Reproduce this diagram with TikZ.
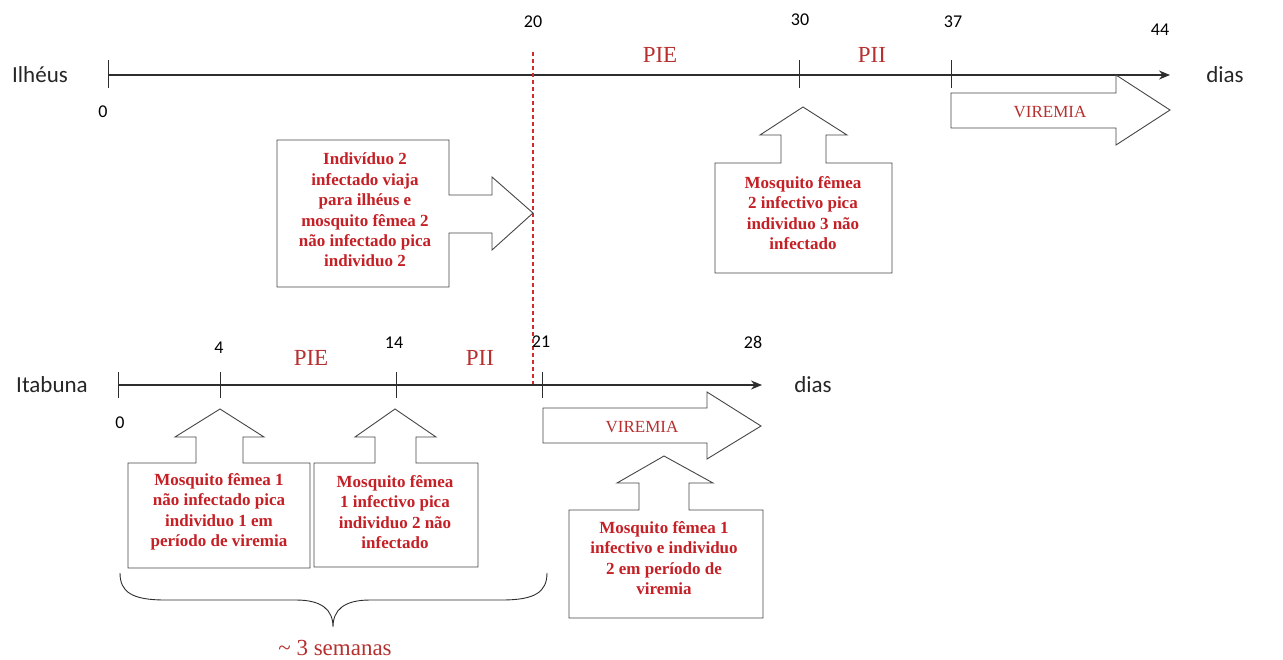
\documentclass[tikz,border=0pt]{standalone}
\usepackage{fontspec}
\setmainfont{Liberation Serif}
\newfontfamily\calib{Carlito}
\usetikzlibrary{arrows.meta}
\definecolor{boxred}{RGB}{196,32,38}
\definecolor{softred}{RGB}{182,48,48}
\definecolor{dashcol}{RGB}{205,45,45}
\definecolor{axisgray}{RGB}{45,45,45}
\definecolor{shapegray}{RGB}{70,70,70}
\tikzset{
  axis/.style={draw=axisgray, line width=1.1pt},
  tickmark/.style={draw=axisgray, line width=1pt},
  numlbl/.style={font=\calib\fontsize{18}{20}\selectfont, text=black},
  placelbl/.style={font=\calib\fontsize{23}{26}\selectfont, text=black!85},
  phase/.style={font=\fontsize{23}{26}\selectfont, text=softred},
  outline/.style={draw=shapegray, line width=0.9pt, fill=white},
  boxtext/.style={font=\bfseries\fontsize{17}{20.4}\selectfont, text=boxred, align=center},
  viretext/.style={font=\fontsize{17}{20}\selectfont, text=softred},
  dashred/.style={draw=dashcol, line width=1.2pt, dash pattern=on 4pt off 3pt}
}
\begin{document}
\begin{tikzpicture}[x=1pt,y=-1pt]
\useasboundingbox (0,0) rectangle (1283,659);

% ---------- Ilheus timeline ----------
\coordinate (t0) at (108,75);
\coordinate (tend) at (1170,75);
\draw[axis,-{Stealth[length=11pt,width=9pt]}] (t0) -- (tend);
\coordinate (tk0a) at (108,60);  \coordinate (tk0b) at (108,88);
\coordinate (tk30a) at (799,60); \coordinate (tk30b) at (799,88);
\coordinate (tk37a) at (951,60); \coordinate (tk37b) at (951,88);
\draw[tickmark] (tk0a) -- (tk0b);
\draw[tickmark] (tk30a) -- (tk30b);
\draw[tickmark] (tk37a) -- (tk37b);

\node[placelbl] (ilheus) at (40,75) {Ilhéus};
\node[placelbl] (dias1) at (1225,75) {dias};
\node[numlbl] (n0a) at (103,112) {0};
\node[numlbl] (n20) at (533,22) {20};
\node[numlbl] (n30) at (800,20) {30};
\node[numlbl] (n37) at (953,22) {37};
\node[numlbl] (n44) at (1160,30) {44};
\node[phase] (pie1) at (660,55) {PIE};
\node[phase] (pii1) at (872,55) {PII};

% dashed red line at day 20
\coordinate (d20a) at (533,52);
\coordinate (d20b) at (533,386);
\draw[dashred] (d20a) -- (d20b);

% VIREMIA arrow (top)
\draw[outline] (951,93) -- (1116,93) -- (1116,75) -- (1170,110) -- (1116,145) -- (1116,128) -- (951,128) -- cycle;
\node[viretext] (vir1) at (1050,112) {VIREMIA};

% callout: Individuo 2 viaja
\draw[outline] (277,140) -- (449,140) -- (449,195) -- (492,195) -- (492,177) -- (533,213) -- (492,250) -- (492,233) -- (449,233) -- (449,287) -- (277,287) -- cycle;
\node[boxtext] (c1) at (365,210) {Indivíduo 2\\infectado viaja\\para ilhéus e\\mosquito fêmea 2\\não infectado pica\\individuo 2};

% callout: Mosquito femea 2 infectivo
\draw[outline] (715,163) -- (781,163) -- (781,135) -- (760,135) -- (803,107) -- (847,135) -- (826,135) -- (826,163) -- (892,163) -- (892,273) -- (715,273) -- cycle;
\node[boxtext] (c2) at (803,213) {Mosquito fêmea\\2 infectivo pica\\individuo 3 não\\infectado};

% ---------- Itabuna timeline ----------
\coordinate (b0) at (118,385);
\coordinate (bend) at (762,385);
\draw[axis,-{Stealth[length=11pt,width=9pt]}] (b0) -- (bend);
\coordinate (bk0a) at (118,372);  \coordinate (bk0b) at (118,398);
\coordinate (bk4a) at (220,372);  \coordinate (bk4b) at (220,398);
\coordinate (bk14a) at (396,372); \coordinate (bk14b) at (396,398);
\coordinate (bk21a) at (542,372); \coordinate (bk21b) at (542,398);
\draw[tickmark] (bk0a) -- (bk0b);
\draw[tickmark] (bk4a) -- (bk4b);
\draw[tickmark] (bk14a) -- (bk14b);
\draw[tickmark] (bk21a) -- (bk21b);

\node[placelbl] (itabuna) at (52,385) {Itabuna};
\node[placelbl] (dias2) at (813,385) {dias};
\node[numlbl] (n0b) at (120,423) {0};
\node[numlbl] (n4) at (219,348) {4};
\node[numlbl] (n14) at (394,343) {14};
\node[numlbl] (n21) at (541,342) {21};
\node[numlbl] (n28) at (753,342) {28};
\node[phase] (pie2) at (311,358) {PIE};
\node[phase] (pii2) at (480,358) {PII};

% VIREMIA arrow (bottom)
\draw[outline] (543,408) -- (707,408) -- (707,392) -- (761,426) -- (707,459) -- (707,443) -- (543,443) -- cycle;
\node[viretext] (vir2) at (642,427) {VIREMIA};

% callout: Mosquito femea 1 nao infectado
\draw[outline] (128,463) -- (196,463) -- (196,437) -- (175,437) -- (220,409) -- (264,437) -- (243,437) -- (243,463) -- (310,463) -- (310,568) -- (128,568) -- cycle;
\node[boxtext] (c3) at (219,512) {Mosquito fêmea 1\\não infectado pica\\individuo 1 em\\período de viremia};

% callout: Mosquito femea 1 infectivo pica
\draw[outline] (314,463) -- (375,463) -- (375,437) -- (355,437) -- (395,409) -- (436,437) -- (416,437) -- (416,463) -- (478,463) -- (478,567) -- (314,567) -- cycle;
\node[boxtext] (c4) at (395,512) {Mosquito fêmea\\1 infectivo pica\\individuo 2 não\\infectado};

% callout: Mosquito femea 1 infectivo e individuo 2
\draw[outline] (569,510) -- (639,510) -- (639,483) -- (617,483) -- (664,456) -- (713,483) -- (689,483) -- (689,510) -- (763,510) -- (763,618) -- (569,618) -- cycle;
\node[boxtext] (c5) at (664,558) {Mosquito fêmea 1\\infectivo e individuo\\2 em período de\\viremia};

% brace
\coordinate (brL) at (120,573);
\coordinate (brR) at (547,573);
\coordinate (brT) at (333,627);
\draw[draw=axisgray, line width=0.9pt]
  (brL) .. controls (120,592) and (132,600) .. (165,600) -- (296,600)
  .. controls (322,600) and (333,610) .. (brT)
  .. controls (333,610) and (344,600) .. (370,600) -- (502,600)
  .. controls (535,600) and (547,592) .. (brR);
\node[phase] (sem) at (335,648) {\textasciitilde{} 3 semanas};

\end{tikzpicture}
\end{document}
